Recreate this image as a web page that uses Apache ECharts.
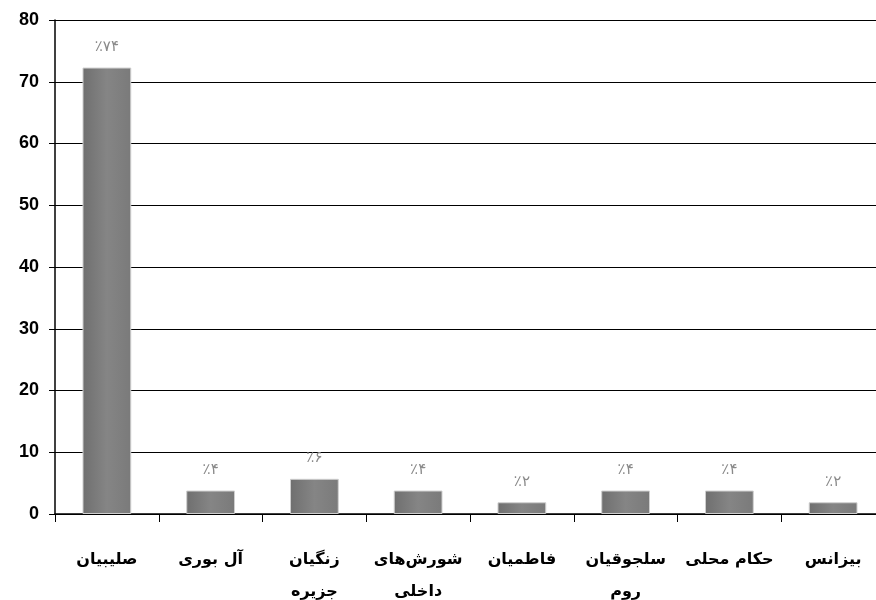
<!DOCTYPE html>
<html>
<head>
<meta charset="utf-8">
<script src="https://cdn.jsdelivr.net/npm/echarts@6/dist/echarts.min.js"></script>
<style>
  html, body { margin: 0; padding: 0; background: #fff; }
  #chart { width: 876px; height: 600px; }
</style>
</head>
<body>
<div id="chart"></div>
<script>
const categories = [
  "صلیبیان",
  "آل بوری",
  "زنگیان\nجزیره",
  "شورش‌های\nداخلی",
  "فاطمیان",
  "سلجوقیان\nروم",
  "حکام محلی",
  "بیزانس"
];
const values = [72.3, 3.8, 5.7, 3.8, 1.9, 3.8, 3.8, 1.9];
const percentLabels = ["٪۷۴", "٪۴", "٪۶", "٪۴", "٪۲", "٪۴", "٪۴", "٪۲"];
const yTicks = [0, 10, 20, 30, 40, 50, 60, 70, 80];

const chart = echarts.init(document.getElementById("chart"));
chart.setOption({
  backgroundColor: "#ffffff",
  animation: false,
  grid: { left: 55, right: -9, top: 20, bottom: 86, outerBoundsMode: "none", containLabel: false },
  xAxis: {
    type: "category",
    data: categories,
    axisLine: { lineStyle: { color: "#000", width: 1.5 } },
    axisTick: { show: true, interval: 0, length: 8, alignWithLabel: false, lineStyle: { color: "#000" } },
    axisLabel: {
      interval: 0,
      margin: 30,
      color: "#000",
      fontFamily: "DejaVu Sans",
      fontWeight: "bold",
      fontSize: 16,
      lineHeight: 32
    }
  },
  yAxis: {
    type: "value",
    min: yTicks[0],
    max: yTicks[yTicks.length - 1],
    interval: 10,
    axisLine: { show: true, lineStyle: { color: "#000", width: 1.5 } },
    axisTick: { show: true, length: 6, lineStyle: { color: "#000" } },
    splitLine: { lineStyle: { color: "#000", width: 1 } },
    axisLabel: {
      margin: 16,
      color: "#000",
      fontFamily: "Liberation Sans",
      fontWeight: "bold",
      fontSize: 18
    }
  },
  series: [{
    type: "bar",
    data: values,
    barWidth: "47%",
    itemStyle: {
      color: new echarts.graphic.LinearGradient(0, 0, 1, 0, [
        { offset: 0, color: "#6f6f6f" },
        { offset: 0.5, color: "#858585" },
        { offset: 1, color: "#7a7a7a" }
      ]),
      borderColor: "#cfcfcf",
      borderWidth: 1
    },
    label: {
      show: true,
      position: "top",
      distance: 13,
      color: "#8a8a8a",
      fontFamily: "DejaVu Sans",
      fontSize: 15,
      formatter: p => percentLabels[p.dataIndex]
    }
  }]
});
</script>
</body>
</html>
